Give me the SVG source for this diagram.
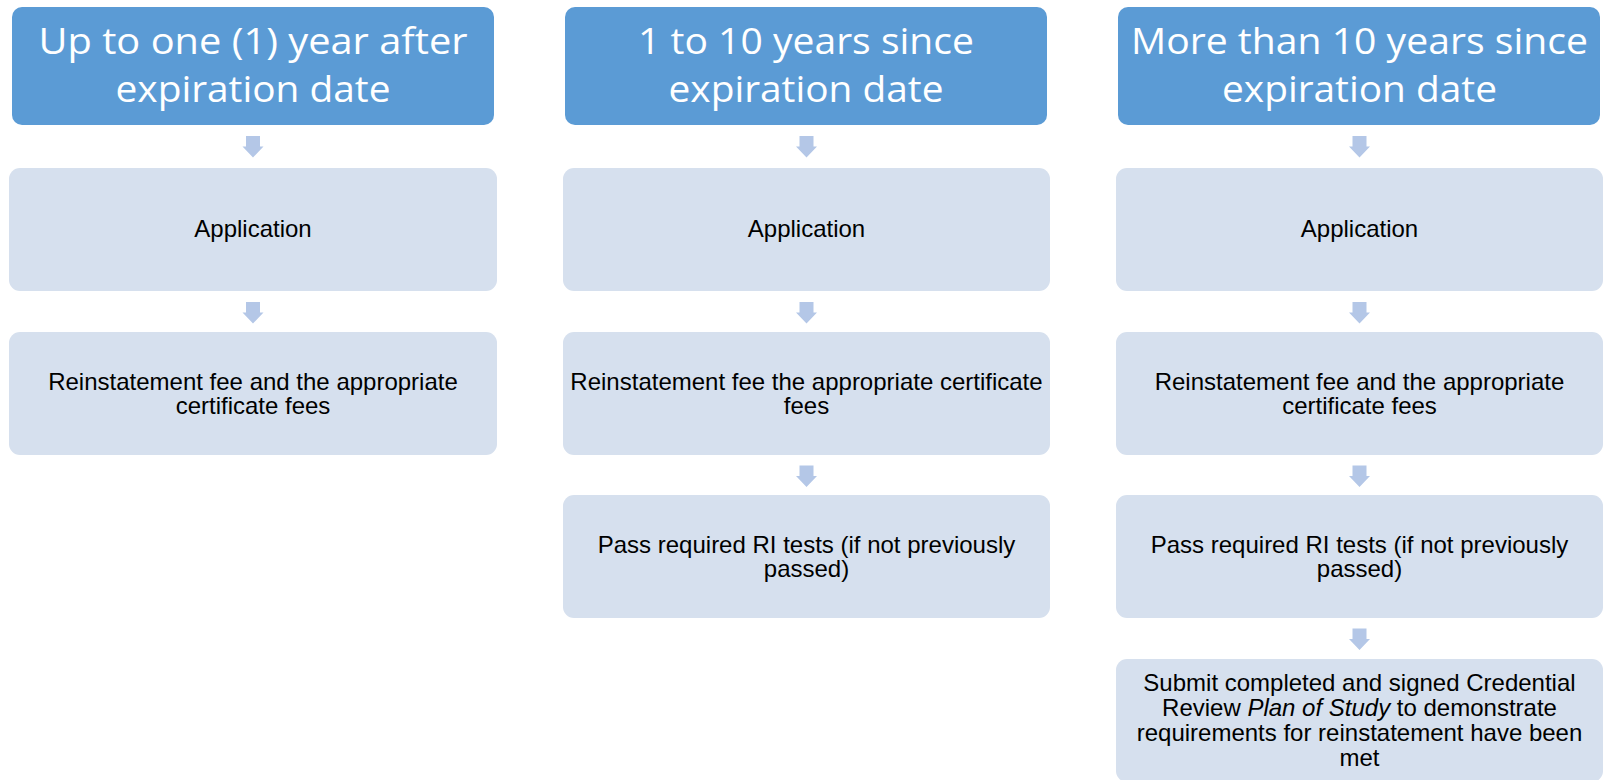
<svg xmlns="http://www.w3.org/2000/svg" width="1604" height="780" viewBox="0 0 1604 780">
  <style>
    .hdr { fill: #5B9BD5; }
    .box { fill: #D6E0EE; }
    .arr { fill: #B4C7E7; }
    .ht { font-family: "Open Sans", "Noto Sans", "DejaVu Sans", sans-serif; font-size: 37px; fill: #FFFFFF; text-anchor: middle; }
    .bt { font-family: "Liberation Sans", Arial, sans-serif; font-size: 24px; fill: #000000; text-anchor: middle; }
    .it { font-style: italic; }
  </style>
  <rect width="1604" height="780" fill="#FFFFFF"/>

  <g id="connectors">
    <!-- column 1 -->
    <path class="arr" d="M246,136 H260 V146.5 H263.5 L253,157.5 L242.5,146.5 H246 Z"/>
    <path class="arr" d="M246,302 H260 V312.5 H263.5 L253,323.5 L242.5,312.5 H246 Z"/>
    <!-- column 2 -->
    <path class="arr" d="M799.5,136 H813.5 V146.5 H817 L806.5,157.5 L796,146.5 H799.5 Z"/>
    <path class="arr" d="M799.5,302 H813.5 V312.5 H817 L806.5,323.5 L796,312.5 H799.5 Z"/>
    <path class="arr" d="M799.5,465.5 H813.5 V476 H817 L806.5,487 L796,476 H799.5 Z"/>
    <!-- column 3 -->
    <path class="arr" d="M1352.5,136 H1366.5 V146.5 H1370 L1359.5,157.5 L1349,146.5 H1352.5 Z"/>
    <path class="arr" d="M1352.5,302 H1366.5 V312.5 H1370 L1359.5,323.5 L1349,312.5 H1352.5 Z"/>
    <path class="arr" d="M1352.5,465.5 H1366.5 V476 H1370 L1359.5,487 L1349,476 H1352.5 Z"/>
    <path class="arr" d="M1352.5,628.5 H1366.5 V639 H1370 L1359.5,650 L1349,639 H1352.5 Z"/>
  </g>

  <!-- Column 1 -->
  <g id="h1">
    <rect class="hdr" x="12" y="7" width="482" height="118" rx="10"/>
    <text class="ht" x="253" y="53.5" textLength="429" lengthAdjust="spacingAndGlyphs">Up to one (1) year after</text>
    <text class="ht" x="253" y="102" textLength="275" lengthAdjust="spacingAndGlyphs">expiration date</text>
  </g>
  <g id="c1r1">
    <rect class="box" x="9" y="168" width="488" height="123" rx="11"/>
    <text class="bt" x="253" y="237">Application</text>
  </g>
  <g id="c1r2">
    <rect class="box" x="9" y="332" width="488" height="123" rx="11"/>
    <text class="bt" x="253" y="389.5">Reinstatement fee and the appropriate</text>
    <text class="bt" x="253" y="413.5">certificate fees</text>
  </g>

  <!-- Column 2 -->
  <g id="h2">
    <rect class="hdr" x="565" y="7" width="482" height="118" rx="10"/>
    <text class="ht" x="806" y="53.5" textLength="336" lengthAdjust="spacingAndGlyphs">1 to 10 years since</text>
    <text class="ht" x="806" y="102" textLength="275" lengthAdjust="spacingAndGlyphs">expiration date</text>
  </g>
  <g id="c2r1">
    <rect class="box" x="563" y="168" width="487" height="123" rx="11"/>
    <text class="bt" x="806.5" y="237">Application</text>
  </g>
  <g id="c2r2">
    <rect class="box" x="563" y="332" width="487" height="123" rx="11"/>
    <text class="bt" x="806.5" y="389.5">Reinstatement fee the appropriate certificate</text>
    <text class="bt" x="806.5" y="413.5">fees</text>
  </g>
  <g id="c2r3">
    <rect class="box" x="563" y="495" width="487" height="123" rx="11"/>
    <text class="bt" x="806.5" y="552.5">Pass required RI tests (if not previously</text>
    <text class="bt" x="806.5" y="576.5">passed)</text>
  </g>

  <!-- Column 3 -->
  <g id="h3">
    <rect class="hdr" x="1118" y="7" width="482" height="118" rx="10"/>
    <text class="ht" x="1359.5" y="53.5" textLength="457" lengthAdjust="spacingAndGlyphs">More than 10 years since</text>
    <text class="ht" x="1359.5" y="102" textLength="275" lengthAdjust="spacingAndGlyphs">expiration date</text>
  </g>
  <g id="c3r1">
    <rect class="box" x="1116" y="168" width="487" height="123" rx="11"/>
    <text class="bt" x="1359.5" y="237">Application</text>
  </g>
  <g id="c3r2">
    <rect class="box" x="1116" y="332" width="487" height="123" rx="11"/>
    <text class="bt" x="1359.5" y="389.5">Reinstatement fee and the appropriate</text>
    <text class="bt" x="1359.5" y="413.5">certificate fees</text>
  </g>
  <g id="c3r3">
    <rect class="box" x="1116" y="495" width="487" height="123" rx="11"/>
    <text class="bt" x="1359.5" y="552.5">Pass required RI tests (if not previously</text>
    <text class="bt" x="1359.5" y="576.5">passed)</text>
  </g>
  <g id="c3r4">
    <rect class="box" x="1116" y="659" width="487" height="123" rx="11"/>
    <text class="bt" x="1359.5" y="690.5">Submit completed and signed Credential</text>
    <text class="bt" x="1359.5" y="715.5">Review <tspan class="it">Plan of Study</tspan> to demonstrate</text>
    <text class="bt" x="1359.5" y="740.5">requirements for reinstatement have been</text>
    <text class="bt" x="1359.5" y="765.5">met</text>
  </g>
</svg>
